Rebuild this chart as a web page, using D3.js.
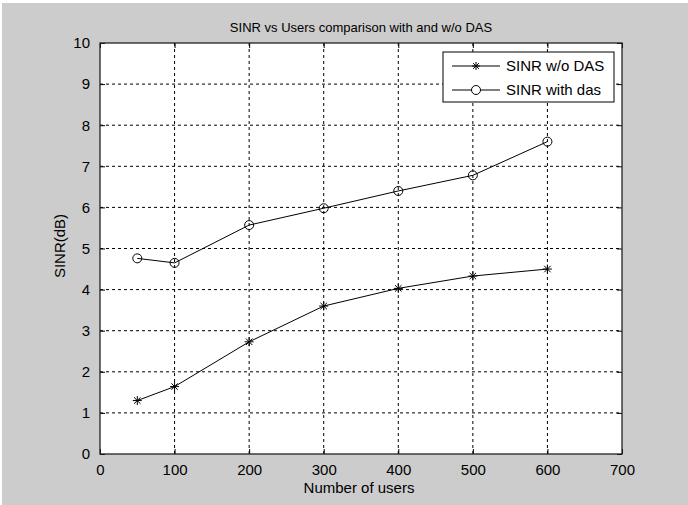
<!DOCTYPE html>
<html lang="en">
<head>
  <meta charset="UTF-8" />
  <title>SINR vs Users</title>
  <script src="https://d3js.org/d3.v7.min.js"></script>
  <style>
    body { margin: 0; background: #fff; }
    text { font-family: "Liberation Sans", Arial, sans-serif; fill: #000; }
    .grid line { stroke: #000; stroke-dasharray: 3,3; stroke-width: 1px; }
  </style>
</head>
<body>
  <svg id="chart" width="688" height="505"></svg>

  <script>
    const users = [50, 100, 200, 300, 400, 500, 600];
    const sinrNoDas = [1.3, 1.64, 2.73, 3.6, 4.03, 4.33, 4.5];
    const sinrDas = [4.76, 4.65, 5.57, 5.98, 6.4, 6.78, 7.6];
    const xTicks = [0, 100, 200, 300, 400, 500, 600, 700];
    const yTicks = [0, 1, 2, 3, 4, 5, 6, 7, 8, 9, 10];

    const svg = d3.select("#chart");
    const plotL = 100, plotR = 622, plotT = 43, plotB = 454;

    svg.append("rect")
      .attr("x", 2).attr("y", 3)
      .attr("width", 686).attr("height", 502)
      .attr("fill", "#cccccc");

    svg.append("rect")
      .attr("x", plotL).attr("y", plotT)
      .attr("width", plotR - plotL).attr("height", plotB - plotT)
      .attr("fill", "#fff");

    const x = d3.scaleLinear().domain([0, 700]).range([plotL, plotR]);
    const y = d3.scaleLinear().domain([0, 10]).range([plotB, plotT]);

    // dashed grid
    const grid = svg.append("g").attr("class", "grid");
    grid.selectAll("line.v")
      .data(xTicks.slice(1, -1))
      .enter().append("line")
      .attr("x1", d => x(d)).attr("x2", d => x(d))
      .attr("y1", plotT).attr("y2", plotB);
    grid.selectAll("line.h")
      .data(yTicks.slice(1, -1))
      .enter().append("line")
      .attr("x1", plotL).attr("x2", plotR)
      .attr("y1", d => y(d)).attr("y2", d => y(d));

    // axes with inward ticks
    svg.append("g")
      .attr("transform", `translate(0,${plotB})`)
      .call(d3.axisBottom(x).tickValues(xTicks).tickSizeInner(-5).tickSizeOuter(0).tickPadding(10))
      .call(g => g.select(".domain").remove())
      .call(g => g.selectAll("text").style("font-size", "15px"));
    svg.append("g")
      .attr("transform", `translate(0,${plotT})`)
      .call(d3.axisTop(x).tickValues(xTicks).tickSizeInner(-5).tickSizeOuter(0).tickFormat(""))
      .call(g => g.select(".domain").remove());
    svg.append("g")
      .attr("transform", `translate(${plotL},0)`)
      .call(d3.axisLeft(y).tickValues(yTicks).tickSizeInner(-5).tickSizeOuter(0).tickPadding(10))
      .call(g => g.select(".domain").remove())
      .call(g => g.selectAll("text").style("font-size", "15px"));
    svg.append("g")
      .attr("transform", `translate(${plotR},0)`)
      .call(d3.axisRight(y).tickValues(yTicks).tickSizeInner(-5).tickSizeOuter(0).tickFormat(""))
      .call(g => g.select(".domain").remove());

    svg.append("rect")
      .attr("x", plotL).attr("y", plotT)
      .attr("width", plotR - plotL).attr("height", plotB - plotT)
      .attr("fill", "none").attr("stroke", "#222").attr("stroke-width", 1.3);

    const line = d3.line().x((d, i) => x(users[i])).y(d => y(d));

    function starPath(size) {
      const s = size, d = size * 0.72;
      return `M${-s},0L${s},0M0,${-s}L0,${s}M${-d},${-d}L${d},${d}M${-d},${d}L${d},${-d}`;
    }

    // w/o DAS series
    svg.append("path")
      .datum(sinrNoDas)
      .attr("d", line)
      .attr("fill", "none").attr("stroke", "#000").attr("stroke-width", 1);
    svg.selectAll("path.star")
      .data(sinrNoDas)
      .enter().append("path")
      .attr("class", "star")
      .attr("transform", (d, i) => `translate(${x(users[i])},${y(d)})`)
      .attr("d", starPath(4.5))
      .attr("stroke", "#000").attr("stroke-width", 1);

    // with DAS series
    svg.append("path")
      .datum(sinrDas)
      .attr("d", line)
      .attr("fill", "none").attr("stroke", "#000").attr("stroke-width", 1);
    svg.selectAll("circle.mk")
      .data(sinrDas)
      .enter().append("circle")
      .attr("class", "mk")
      .attr("cx", (d, i) => x(users[i]))
      .attr("cy", d => y(d))
      .attr("r", 4.5)
      .attr("fill", "none").attr("stroke", "#000").attr("stroke-width", 1);

    // legend
    const lg = svg.append("g").attr("transform", "translate(443,52)");
    lg.append("rect")
      .attr("width", 171).attr("height", 50)
      .attr("fill", "#fff").attr("stroke", "#000").attr("stroke-width", 1);
    const items = [{ label: "SINR w/o DAS", mark: "star" }, { label: "SINR with das", mark: "circle" }];
    items.forEach((it, i) => {
      const cy = 14 + i * 24;
      lg.append("line")
        .attr("x1", 9).attr("x2", 57).attr("y1", cy).attr("y2", cy)
        .attr("stroke", "#000");
      if (it.mark === "star") {
        lg.append("path")
          .attr("transform", `translate(33,${cy})`)
          .attr("d", starPath(4))
          .attr("stroke", "#000");
      } else {
        lg.append("circle")
          .attr("cx", 33).attr("cy", cy).attr("r", 4.5)
          .attr("fill", "#fff").attr("stroke", "#000");
      }
      lg.append("text")
        .attr("x", 63).attr("y", cy + 5)
        .style("font-size", "15px")
        .text(it.label);
    });

    // titles
    svg.append("text")
      .attr("x", 361).attr("y", 32)
      .attr("text-anchor", "middle")
      .style("font-size", "13px")
      .text("SINR vs Users comparison with and w/o DAS");
    svg.append("text")
      .attr("x", 359).attr("y", 493)
      .attr("text-anchor", "middle")
      .style("font-size", "15px")
      .text("Number of users");
    svg.append("text")
      .attr("transform", "translate(65,246) rotate(-90)")
      .attr("text-anchor", "middle")
      .style("font-size", "15px")
      .text("SINR(dB)");
  </script>
</body>
</html>
